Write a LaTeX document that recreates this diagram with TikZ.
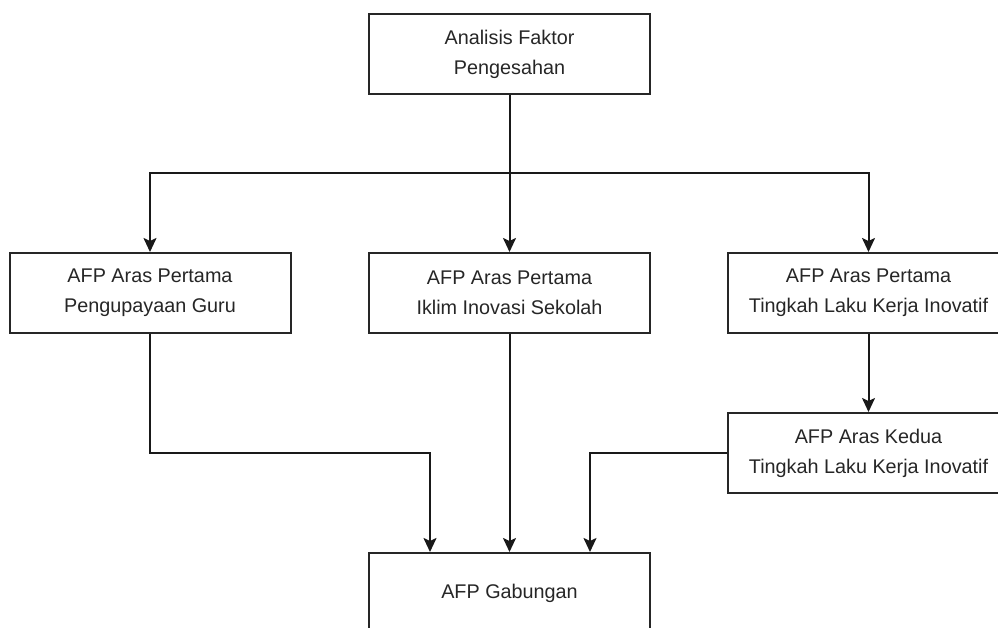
\documentclass[tikz,border=0pt]{standalone}
\usepackage{fontspec}
\setmainfont{Liberation Sans}
\usetikzlibrary{arrows.meta}

\begin{document}
\begin{tikzpicture}[x=1pt, y=-1pt,
    box/.style={draw=black!85, line width=2pt, minimum width=281pt, minimum height=80pt,
        inner sep=0pt, align=center, text=black!85, font=\fontsize{19.8}{30}\selectfont},
    flow/.style={draw=black!90, line width=2pt, -{Stealth[length=14pt, width=13pt, inset=3pt]}}]
    \clip (0,0) rectangle (998,628);
    \node[box] (faktor) at (509.5,54) {Analisis Faktor\\Pengesahan};
    \node[box] (guru) at (150,293) {AFP Aras Pertama\\Pengupayaan Guru};
    \node[box] (iklim) at (509.5,293) {AFP Aras Pertama\\Iklim Inovasi Sekolah};
    \node[box] (kerja) at (868.5,293) {AFP Aras Pertama\\Tingkah Laku Kerja Inovatif};
    \node[box] (kedua) at (868.5,453) {AFP Aras Kedua\\Tingkah Laku Kerja Inovatif};
    \node[box] (gabungan) at (509.5,593) {AFP Gabungan};
    \coordinate (split) at (509.5,173);
    \coordinate (joinL) at (430,453);
    \coordinate (joinR) at (590,453);
    % from the top box
    \draw[flow] (faktor) -- (iklim);
    \draw[flow] (split) -| (guru);
    \draw[flow] (split) -| (kerja);
    % into the combined box
    \draw[flow] (kerja) -- (kedua);
    \draw[flow] (guru) |- (joinL) -- (gabungan.north -| joinL);
    \draw[flow] (iklim) -- (gabungan);
    \draw[flow] (kedua.west) -- (joinR) -- (gabungan.north -| joinR);
\end{tikzpicture}
\end{document}
